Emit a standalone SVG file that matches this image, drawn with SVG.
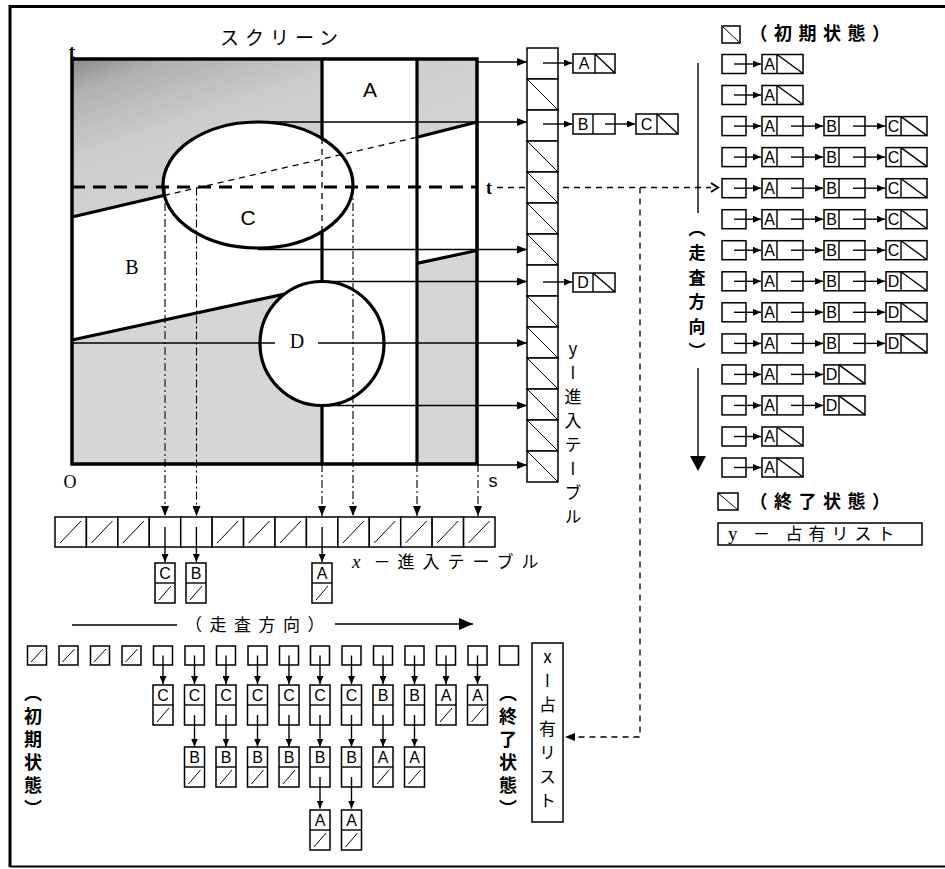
<svg xmlns="http://www.w3.org/2000/svg" width="945" height="869" viewBox="0 0 945 869">
<style>
.thk{fill:none;stroke:#000;stroke-width:3.2}
.ln{fill:none;stroke:#000;stroke-width:1.4}
.thin{fill:none;stroke:#000;stroke-width:1}
.box{fill:#fff;stroke:#000;stroke-width:1.5}
.dash{fill:none;stroke:#000;stroke-width:1.3;stroke-dasharray:6 5}
.proj{fill:none;stroke:#000;stroke-width:1.1;stroke-dasharray:8 3 2 3}
.jp{font-family:"Noto Sans CJK JP",sans-serif;fill:#000}
.jpb{font-family:"Noto Sans CJK JP",sans-serif;font-weight:bold;fill:#000}
.vt{writing-mode:vertical-rl;text-orientation:upright}
.lt{font-family:"Liberation Sans Narrow","Liberation Sans",sans-serif;font-size:16px;text-anchor:middle;fill:#000}
.sf{font-family:"Liberation Serif",serif;fill:#000}
.ss{font-family:"Liberation Sans",sans-serif;fill:#000}
</style>
<defs>
<linearGradient id="shade" gradientUnits="userSpaceOnUse" x1="72" y1="59" x2="140" y2="260">
<stop offset="0" stop-color="#8a8a8a"/>
<stop offset="0.15" stop-color="#b0b0b0"/>
<stop offset="0.45" stop-color="#cccccc"/>
<stop offset="1" stop-color="#d6d6d6"/>
</linearGradient>
<marker id="ah" viewBox="0 0 10 8" refX="10" refY="4" markerWidth="10" markerHeight="8" markerUnits="userSpaceOnUse" orient="auto"><path d="M0,0L10,4L0,8z" fill="#000"/></marker>
<marker id="ahs" viewBox="0 0 8 7" refX="8" refY="3.5" markerWidth="8" markerHeight="7" markerUnits="userSpaceOnUse" orient="auto"><path d="M0,0L8,3.5L0,7z" fill="#000"/></marker>
<marker id="ahb" viewBox="0 0 14 12" refX="14" refY="6" markerWidth="14" markerHeight="12" markerUnits="userSpaceOnUse" orient="auto"><path d="M0,0L14,6L0,12z" fill="#000"/></marker>
<g id="yhd"><rect class="box" x="0" y="0" width="24" height="19"/><path class="ln" d="M12,9.5H39" marker-end="url(#ahs)"/></g>
<g id="ynp"><rect class="box" width="41" height="19"/><path class="ln" d="M15,0V19"/><path class="ln" d="M29,9.5H61" marker-end="url(#ahs)"/></g>
<g id="yns"><rect class="box" width="41" height="19"/><path class="ln" d="M15,0V19M15,0L41,19"/></g>
<g id="yc"><rect class="box" width="31" height="31"/></g>
<g id="ycs"><rect class="box" width="31" height="31"/><path class="thin" d="M0,0L31,31"/></g>
<g id="xec"><rect class="box" width="31.43" height="30"/></g>
<g id="xes"><rect class="box" width="31.43" height="30"/><path class="thin" d="M5,26L26,4"/></g>
<g id="xtop"><rect class="box" x="-9.5" y="0" width="19" height="19"/></g>
<g id="xtopn"><rect class="box" x="-9.5" y="0" width="19" height="19"/><path class="thin" d="M-6,16L6,3"/></g>
<g id="xtopp"><rect class="box" x="-9.5" y="0" width="19" height="19"/><path class="ln" d="M0,9.5V38" marker-end="url(#ahs)"/></g>
<g id="xnn"><rect class="box" x="-10" y="0" width="20" height="40"/><path class="ln" d="M-10,20H10"/><path class="thin" d="M-6,37L6,23"/></g>
<g id="xnp"><rect class="box" x="-10" y="0" width="20" height="40"/><path class="ln" d="M-10,20H10"/><path class="ln" d="M0,30V61.5" marker-end="url(#ahs)"/></g>
</defs>

<rect width="945" height="869" fill="#fff"/>
<path d="M10,867V6.5H945" fill="none" stroke="#000" stroke-width="3"/>
<path d="M10,866.5H945" fill="none" stroke="#000" stroke-width="2"/>

<g id="screen">
<rect x="72" y="59" width="405" height="405" fill="url(#shade)"/>
<polygon id="B-region" points="72,217 477,122 477,252.5 72,340" fill="#fff"/>
<rect id="A-region" x="322" y="59" width="95" height="405" fill="#fff"/>
<path class="thk" d="M72,217L200,187 M72,340L300,290.7 M417,137.2L477,122 M417,263.4L477,250.5"/>
<path class="thk" d="M322,59V464 M417,59V464"/>
<ellipse id="C-region" cx="258" cy="185" rx="95" ry="63" fill="#fff" stroke="#000" stroke-width="3.2"/>
<circle id="D-region" cx="322" cy="343.5" r="62" fill="#fff" stroke="#000" stroke-width="3.2"/>
<path class="dash" d="M164,195.5L417,137.2 M322,138V232"/>
<rect x="72" y="59" width="405" height="405" fill="none" stroke="#000" stroke-width="3.5"/>
<text class="ss" x="370" y="97" font-size="21" text-anchor="middle">A</text>
<text class="ss" x="248" y="225" font-size="21" text-anchor="middle">C</text>
<text class="sf" x="132" y="274" font-size="20" text-anchor="middle">B</text>
<text class="sf" x="297" y="348" font-size="20" text-anchor="middle">D</text>
<text class="jp" x="220" y="45" font-size="19" letter-spacing="6">スクリーン</text>
<text class="sf" x="72" y="58" font-size="19" font-weight="bold" text-anchor="middle">t</text>
<text class="sf" x="70" y="488" font-size="18" text-anchor="middle">O</text>
<text class="ss" x="493" y="487" font-size="18" text-anchor="middle">s</text>
<text class="sf" x="489" y="194" font-size="18" font-weight="bold" text-anchor="middle">t</text>
</g>

<g id="connectors">
<path d="M72,187H477" fill="none" stroke="#000" stroke-width="3" stroke-dasharray="13 8"/>
<path class="ln" d="M477,62H527" marker-end="url(#ah)"/>
<path class="ln" d="M258,122H527" marker-end="url(#ah)"/>
<path class="ln" d="M258,249.5H527" marker-end="url(#ah)"/>
<path class="ln" d="M322,281.5H527" marker-end="url(#ah)"/>
<path class="ln" d="M72,343H275"/>
<path class="ln" d="M318,343H527" marker-end="url(#ah)"/>
<path class="ln" d="M322,405.5H527" marker-end="url(#ah)"/>
<path class="ln" d="M477,465H527" marker-end="url(#ah)"/>
<path class="proj" d="M165,187V516" marker-end="url(#ah)"/>
<path class="proj" d="M196.5,187.5V516" marker-end="url(#ah)"/>
<path class="proj" d="M353,187V516" marker-end="url(#ah)"/>
<path class="proj" d="M322,464V516" marker-end="url(#ah)"/>
<path class="proj" d="M417,464V516" marker-end="url(#ah)"/>
<path class="proj" d="M478,464V516" marker-end="url(#ah)"/>
<path class="dash" d="M497,187.5H711"/>
<path d="M711,183L718,187.5L711,192" fill="none" stroke="#000" stroke-width="2"/>
<path class="dash" d="M640,187.5V737H565" marker-end="url(#ah)"/>
<path class="ln" d="M72,625H177"/>
<path class="ln" d="M335,624H473" marker-end="url(#ahb)"/>
<path class="ln" d="M698,63V213"/>
<path class="ln" d="M698,368V458"/>
<path d="M690,456H706L698,471z" fill="#000"/>
</g>

<g id="y-entry-table">
<use href="#yc" x="527" y="48"/>
<use href="#ycs" x="527" y="79"/>
<use href="#yc" x="527" y="110"/>
<use href="#ycs" x="527" y="141"/>
<use href="#ycs" x="527" y="172"/>
<use href="#ycs" x="527" y="203"/>
<use href="#ycs" x="527" y="234"/>
<use href="#yc" x="527" y="265"/>
<use href="#ycs" x="527" y="296"/>
<use href="#ycs" x="527" y="327"/>
<use href="#ycs" x="527" y="358"/>
<use href="#ycs" x="527" y="389"/>
<use href="#ycs" x="527" y="420"/>
<use href="#ycs" x="527" y="451"/>
<path class="ln" d="M543,63H572" marker-end="url(#ahs)"/>
<path class="ln" d="M543,124H572" marker-end="url(#ahs)"/>
<path class="ln" d="M543,282H572" marker-end="url(#ahs)"/>
<text class="jp vt" x="573" y="340" font-size="17" letter-spacing="7">yー進入テーブル</text>
</g>
<g id="yt-node-A"><rect class="box" x="573" y="54" width="42" height="19"/><path class="ln" d="M595,54V73M595,54L615,73"/><text class="lt" x="584" y="69">A</text></g>
<g id="yt-node-B"><rect class="box" x="573" y="114" width="42" height="20"/><path class="ln" d="M593,114V134"/><path class="ln" d="M605,124H635" marker-end="url(#ahs)"/><text class="lt" x="583" y="130">B</text></g>
<g id="yt-node-C"><rect class="box" x="636" y="114" width="42" height="20"/><path class="ln" d="M657,114V134M657,114L678,134"/><text class="lt" x="646.5" y="130">C</text></g>
<g id="yt-node-D"><rect class="box" x="573" y="273" width="42" height="19"/><path class="ln" d="M593,273V292M593,273L615,292"/><text class="lt" x="583" y="288">D</text></g>

<g id="x-entry-table">
<use href="#xes" x="55" y="517"/>
<use href="#xes" x="86.43" y="517"/>
<use href="#xes" x="117.86" y="517"/>
<use href="#xec" x="149.29" y="517"/>
<use href="#xec" x="180.71" y="517"/>
<use href="#xes" x="212.14" y="517"/>
<use href="#xes" x="243.57" y="517"/>
<use href="#xes" x="275" y="517"/>
<use href="#xec" x="306.43" y="517"/>
<use href="#xes" x="337.86" y="517"/>
<use href="#xes" x="369.29" y="517"/>
<use href="#xes" x="400.71" y="517"/>
<use href="#xes" x="432.14" y="517"/>
<use href="#xes" x="463.57" y="517"/>
<path class="ln" d="M165,527V562" marker-end="url(#ahs)"/>
<path class="ln" d="M196.4,527V562" marker-end="url(#ahs)"/>
<path class="ln" d="M322.1,527V562" marker-end="url(#ahs)"/>
<text class="jp" y="568" font-size="17"><tspan class="sf" x="352" font-style="italic" font-size="19">x</tspan><tspan x="373.5">－</tspan><tspan x="397.5" letter-spacing="8">進入テーブル</tspan></text>
</g>
<g id="xe-node-C"><use href="#xnn" x="165" y="563"/><text class="lt" x="165" y="579">C</text></g>
<g id="xe-node-B"><use href="#xnn" x="196" y="563"/><text class="lt" x="196" y="579">B</text></g>
<g id="xe-node-A"><use href="#xnn" x="322" y="563"/><text class="lt" x="322" y="579">A</text></g>

<g id="x-occupancy-list">
<text class="jp" x="185" y="631" font-size="17" letter-spacing="7.5">（走査方向）</text>
<g id="xcol-0"><use href="#xtopn" x="37" y="646"/></g>
<g id="xcol-1"><use href="#xtopn" x="68.5" y="646"/></g>
<g id="xcol-2"><use href="#xtopn" x="100" y="646"/></g>
<g id="xcol-3"><use href="#xtopn" x="131.5" y="646"/></g>
<g id="xcol-4"><use href="#xtopp" x="163" y="646"/><use href="#xnn" x="163" y="685"/><text class="lt" x="163" y="701">C</text></g>
<g id="xcol-5"><use href="#xtopp" x="194.5" y="646"/><use href="#xnp" x="194.5" y="685"/><text class="lt" x="194.5" y="701">C</text><use href="#xnn" x="194.5" y="747"/><text class="lt" x="194.5" y="763">B</text></g>
<g id="xcol-6"><use href="#xtopp" x="226" y="646"/><use href="#xnp" x="226" y="685"/><text class="lt" x="226" y="701">C</text><use href="#xnn" x="226" y="747"/><text class="lt" x="226" y="763">B</text></g>
<g id="xcol-7"><use href="#xtopp" x="257.5" y="646"/><use href="#xnp" x="257.5" y="685"/><text class="lt" x="257.5" y="701">C</text><use href="#xnn" x="257.5" y="747"/><text class="lt" x="257.5" y="763">B</text></g>
<g id="xcol-8"><use href="#xtopp" x="289" y="646"/><use href="#xnp" x="289" y="685"/><text class="lt" x="289" y="701">C</text><use href="#xnn" x="289" y="747"/><text class="lt" x="289" y="763">B</text></g>
<g id="xcol-9"><use href="#xtopp" x="320" y="646"/><use href="#xnp" x="320" y="685"/><text class="lt" x="320" y="701">C</text><use href="#xnp" x="320" y="747"/><text class="lt" x="320" y="763">B</text><use href="#xnn" x="320" y="810"/><text class="lt" x="320" y="826">A</text></g>
<g id="xcol-10"><use href="#xtopp" x="351.5" y="646"/><use href="#xnp" x="351.5" y="685"/><text class="lt" x="351.5" y="701">C</text><use href="#xnp" x="351.5" y="747"/><text class="lt" x="351.5" y="763">B</text><use href="#xnn" x="351.5" y="810"/><text class="lt" x="351.5" y="826">A</text></g>
<g id="xcol-11"><use href="#xtopp" x="383" y="646"/><use href="#xnp" x="383" y="685"/><text class="lt" x="383" y="701">B</text><use href="#xnn" x="383" y="747"/><text class="lt" x="383" y="763">A</text></g>
<g id="xcol-12"><use href="#xtopp" x="414.5" y="646"/><use href="#xnp" x="414.5" y="685"/><text class="lt" x="414.5" y="701">B</text><use href="#xnn" x="414.5" y="747"/><text class="lt" x="414.5" y="763">A</text></g>
<g id="xcol-13"><use href="#xtopp" x="446" y="646"/><use href="#xnn" x="446" y="685"/><text class="lt" x="446" y="701">A</text></g>
<g id="xcol-14"><use href="#xtopp" x="477.5" y="646"/><use href="#xnn" x="477.5" y="685"/><text class="lt" x="477.5" y="701">A</text></g>
<g id="xcol-15"><use href="#xtop" x="509" y="646"/></g>
<text class="jpb vt" x="33" y="684" font-size="18" letter-spacing="5">（初期状態）</text>
<text class="jpb vt" x="508" y="684" font-size="18" letter-spacing="5">（終了状態）</text>
<g id="x-list-label"><rect class="box" x="532" y="643" width="31" height="179"/><text class="jp vt" x="547.5" y="648" font-size="17" letter-spacing="7">xー占有リスト</text></g>
</g>

<g id="y-occupancy-list">
<text class="jpb vt" x="697" y="220" font-size="17" letter-spacing="7.5">（走査方向）</text>
<g id="yrow-0"><rect class="box" x="722" y="26" width="18" height="17"/><path class="thin" d="M722,26L740,43"/><text class="jpb" x="749.5" y="39.5" font-size="18" letter-spacing="6.5">（初期状態）</text></g>
<g id="yrow-1"><use href="#yhd" x="722" y="54.5"/><use href="#yns" x="762" y="54.5"/><text class="lt" x="769.5" y="69.5">A</text></g>
<g id="yrow-2"><use href="#yhd" x="722" y="85.5"/><use href="#yns" x="762" y="85.5"/><text class="lt" x="769.5" y="100.5">A</text></g>
<g id="yrow-3"><use href="#yhd" x="722" y="116.6"/><use href="#ynp" x="762" y="116.6"/><use href="#ynp" x="824" y="116.6"/><use href="#yns" x="886" y="116.6"/><text class="lt" x="769.5" y="131.6">A</text><text class="lt" x="831.5" y="131.6">B</text><text class="lt" x="893.5" y="131.6">C</text></g>
<g id="yrow-4"><use href="#yhd" x="722" y="147.6"/><use href="#ynp" x="762" y="147.6"/><use href="#ynp" x="824" y="147.6"/><use href="#yns" x="886" y="147.6"/><text class="lt" x="769.5" y="162.6">A</text><text class="lt" x="831.5" y="162.6">B</text><text class="lt" x="893.5" y="162.6">C</text></g>
<g id="yrow-5"><use href="#yhd" x="722" y="178.7"/><use href="#ynp" x="762" y="178.7"/><use href="#ynp" x="824" y="178.7"/><use href="#yns" x="886" y="178.7"/><text class="lt" x="769.5" y="193.7">A</text><text class="lt" x="831.5" y="193.7">B</text><text class="lt" x="893.5" y="193.7">C</text></g>
<g id="yrow-6"><use href="#yhd" x="722" y="209.7"/><use href="#ynp" x="762" y="209.7"/><use href="#ynp" x="824" y="209.7"/><use href="#yns" x="886" y="209.7"/><text class="lt" x="769.5" y="224.7">A</text><text class="lt" x="831.5" y="224.7">B</text><text class="lt" x="893.5" y="224.7">C</text></g>
<g id="yrow-7"><use href="#yhd" x="722" y="240.7"/><use href="#ynp" x="762" y="240.7"/><use href="#ynp" x="824" y="240.7"/><use href="#yns" x="886" y="240.7"/><text class="lt" x="769.5" y="255.7">A</text><text class="lt" x="831.5" y="255.7">B</text><text class="lt" x="893.5" y="255.7">C</text></g>
<g id="yrow-8"><use href="#yhd" x="722" y="271.8"/><use href="#ynp" x="762" y="271.8"/><use href="#ynp" x="824" y="271.8"/><use href="#yns" x="886" y="271.8"/><text class="lt" x="769.5" y="286.8">A</text><text class="lt" x="831.5" y="286.8">B</text><text class="lt" x="893.5" y="286.8">D</text></g>
<g id="yrow-9"><use href="#yhd" x="722" y="302.8"/><use href="#ynp" x="762" y="302.8"/><use href="#ynp" x="824" y="302.8"/><use href="#yns" x="886" y="302.8"/><text class="lt" x="769.5" y="317.8">A</text><text class="lt" x="831.5" y="317.8">B</text><text class="lt" x="893.5" y="317.8">D</text></g>
<g id="yrow-10"><use href="#yhd" x="722" y="333.9"/><use href="#ynp" x="762" y="333.9"/><use href="#ynp" x="824" y="333.9"/><use href="#yns" x="886" y="333.9"/><text class="lt" x="769.5" y="348.9">A</text><text class="lt" x="831.5" y="348.9">B</text><text class="lt" x="893.5" y="348.9">D</text></g>
<g id="yrow-11"><use href="#yhd" x="722" y="364.9"/><use href="#ynp" x="762" y="364.9"/><use href="#yns" x="824" y="364.9"/><text class="lt" x="769.5" y="379.9">A</text><text class="lt" x="831.5" y="379.9">D</text></g>
<g id="yrow-12"><use href="#yhd" x="722" y="395.9"/><use href="#ynp" x="762" y="395.9"/><use href="#yns" x="824" y="395.9"/><text class="lt" x="769.5" y="410.9">A</text><text class="lt" x="831.5" y="410.9">D</text></g>
<g id="yrow-13"><use href="#yhd" x="722" y="427"/><use href="#yns" x="762" y="427"/><text class="lt" x="769.5" y="442">A</text></g>
<g id="yrow-14"><use href="#yhd" x="722" y="458"/><use href="#yns" x="762" y="458"/><text class="lt" x="769.5" y="473">A</text></g>
<g id="yrow-15"><rect class="box" x="718" y="493" width="20" height="17"/><path class="thin" d="M718,493L738,510"/><text class="jpb" x="749.5" y="508" font-size="18" letter-spacing="6.5">（終了状態）</text></g>
<g id="y-list-label"><rect class="box" x="718" y="523" width="204" height="22"/><text class="jp" y="540" font-size="17"><tspan class="sf" x="728" font-size="19">y</tspan><tspan x="753">－</tspan><tspan x="785.5" letter-spacing="6">占有リスト</tspan></text></g>
</g>
</svg>
